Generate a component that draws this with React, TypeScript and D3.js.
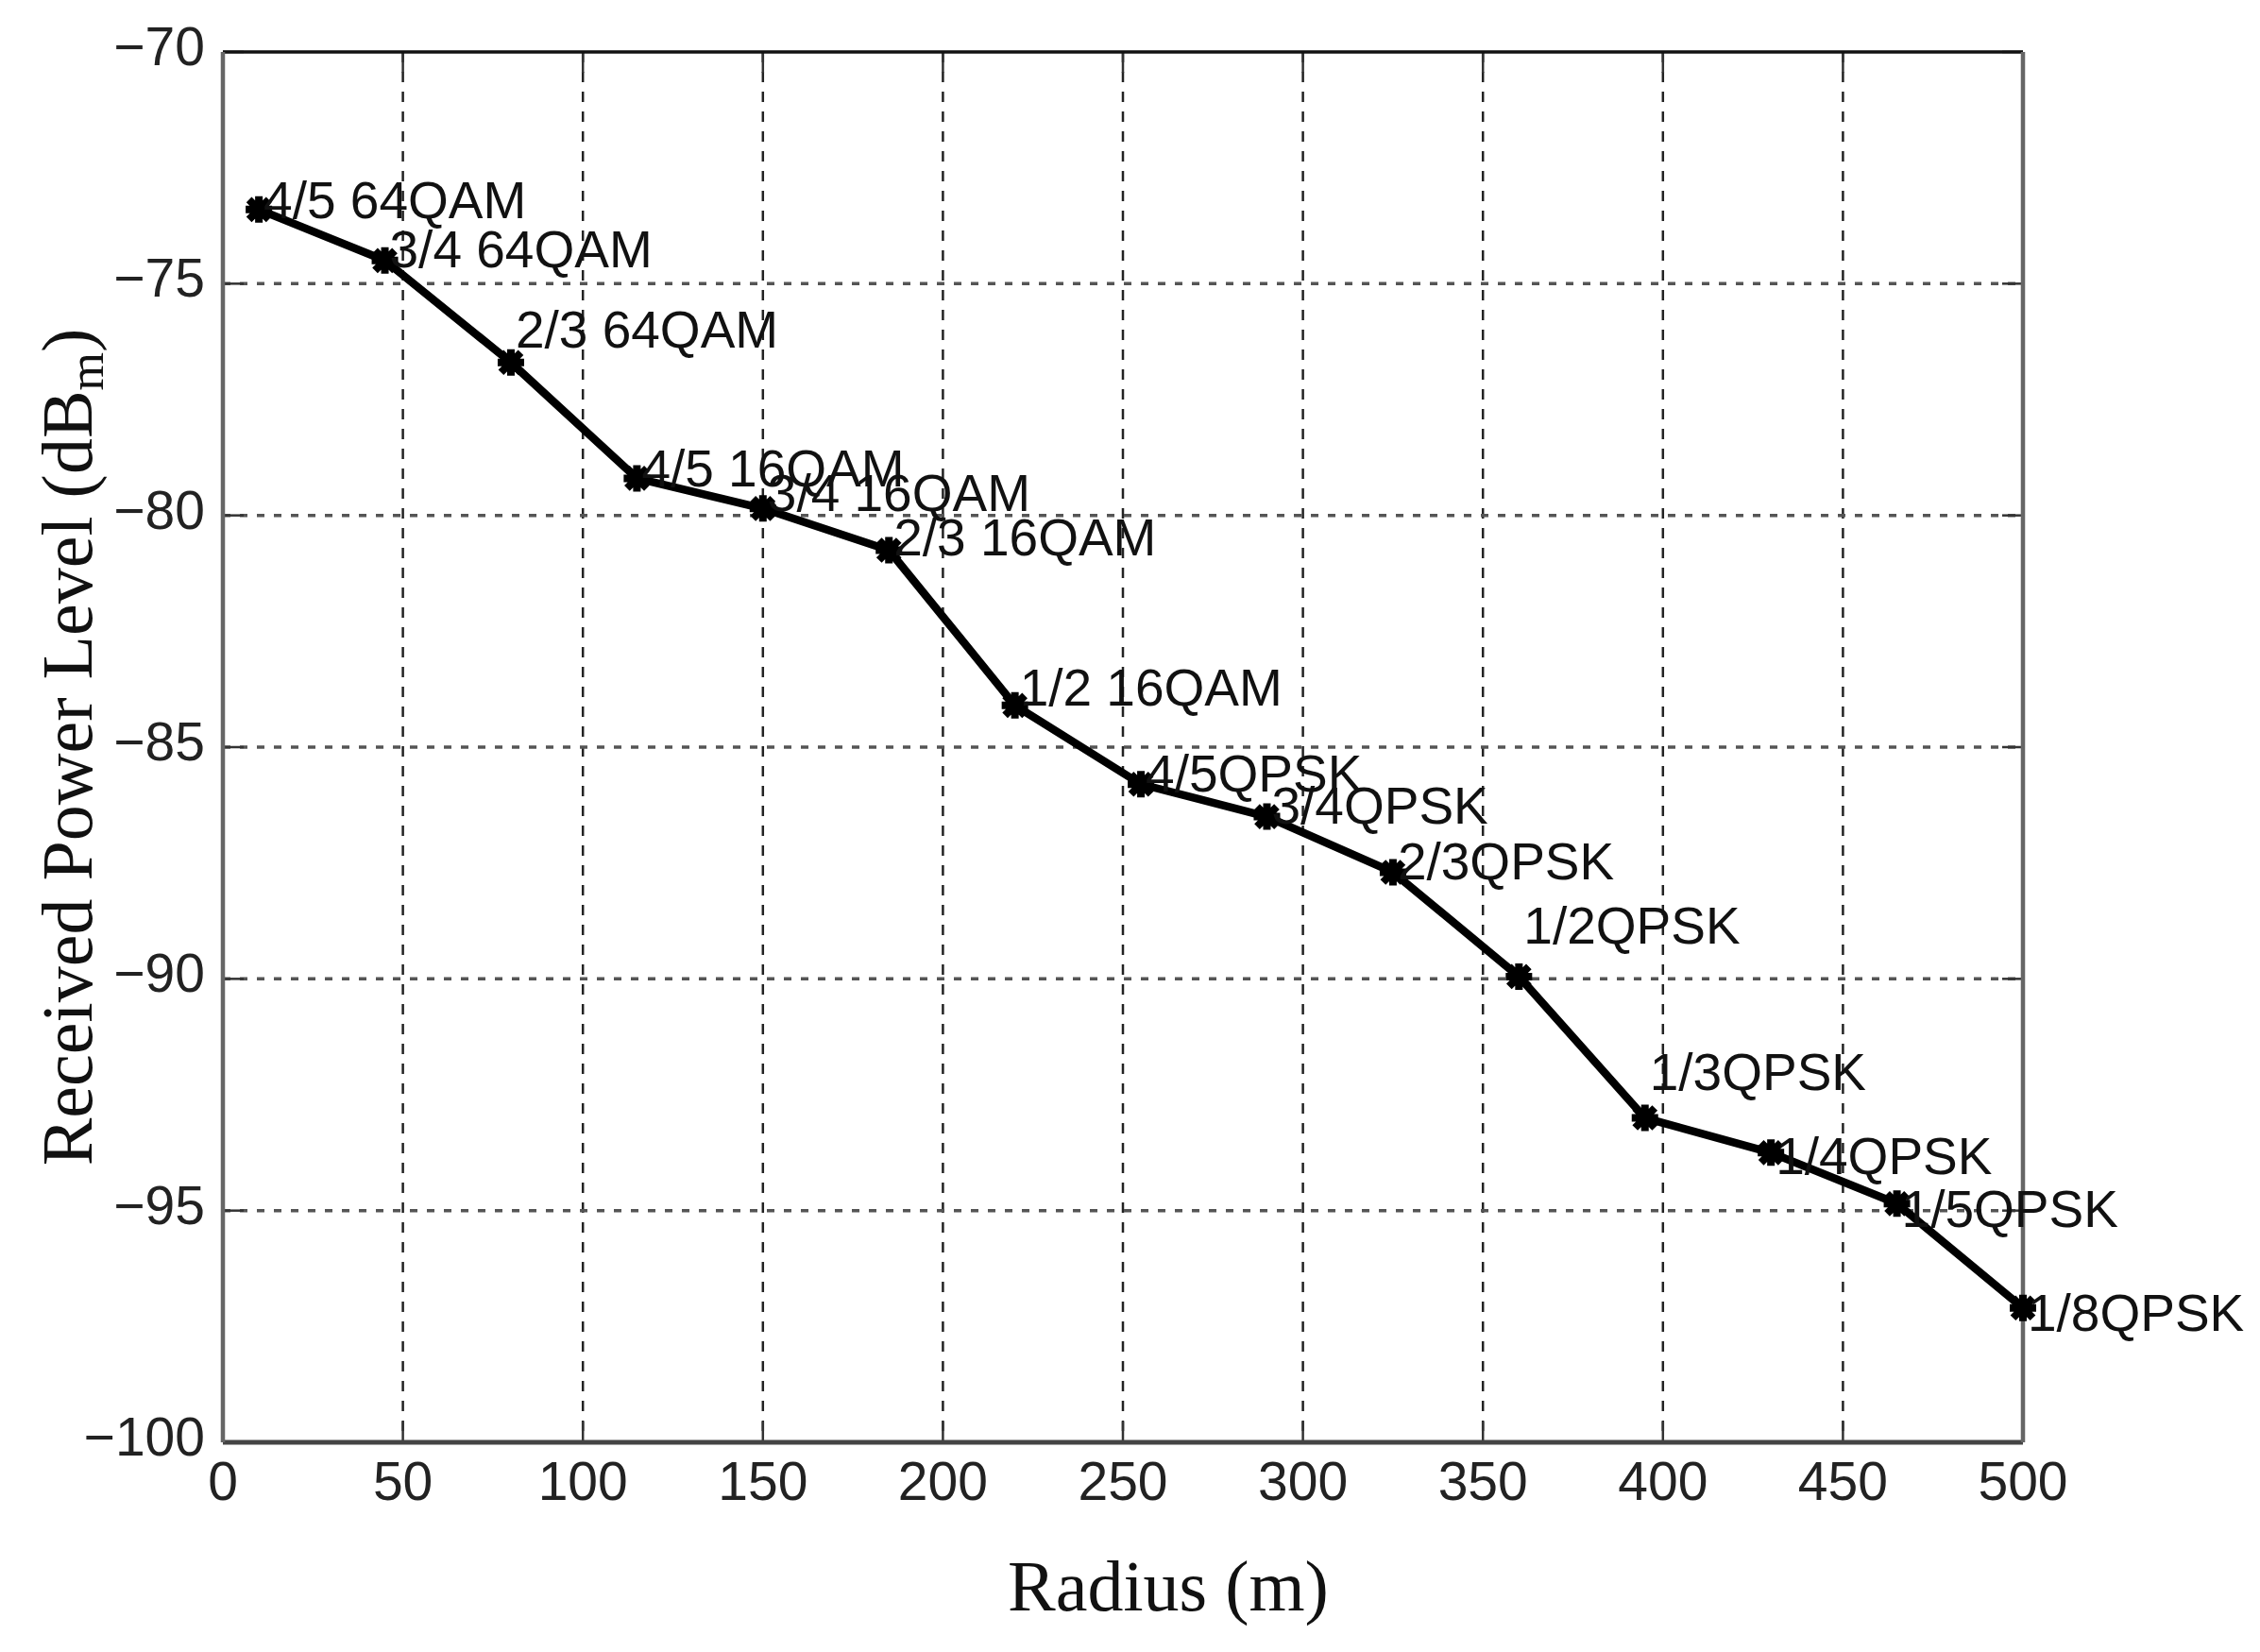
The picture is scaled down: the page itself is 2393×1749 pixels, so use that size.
import React, { useEffect, useRef } from 'react'
import * as d3 from 'd3'

// Radius (m) of each modulation/coding switch point
const radius = [10, 45, 80, 115, 150, 185, 220, 255, 290, 325, 360, 395, 430, 465, 500]

// Received power level (dBm) at each point
const power = [-73.4, -74.5, -76.7, -79.2, -79.85, -80.75, -84.1, -85.8, -86.5, -87.7, -89.95, -93.0, -93.75, -94.85, -97.1]

// MCS names written next to the points
const labels = [
	'4/5 64QAM', '3/4 64QAM', '2/3 64QAM',
	'4/5 16QAM', '3/4 16QAM', '2/3 16QAM', '1/2 16QAM',
	'4/5QPSK', '3/4QPSK', '2/3QPSK', '1/2QPSK', '1/3QPSK', '1/4QPSK', '1/5QPSK', '1/8QPSK',
]

// power level (dBm) where each label text is anchored
const labelPower = [-73.18, -74.24, -75.98, -78.96, -79.49, -80.46, -83.7, -85.55, -86.24, -87.45, -88.84, -92.0, -93.8, -94.94, -97.18]

const xTicks = [0, 50, 100, 150, 200, 250, 300, 350, 400, 450, 500]
const yTicks = [-70, -75, -80, -85, -90, -95, -100]

export default function App() {
	const ref = useRef<SVGSVGElement>(null)

	const width = 2393
	const height = 1749
	const margin = { top: 55, right: 251, bottom: 222, left: 236 }

	useEffect(() => {
		drawChart()
	// eslint-disable-next-line react-hooks/exhaustive-deps
	}, [])

	const drawChart = () => {
		const svg = d3.select(ref.current)
		svg.selectAll('*').remove()

		const x = d3.scaleLinear().domain([0, 500]).range([margin.left, width - margin.right])
		const y = d3.scaleLinear().domain([-100, -70]).range([height - margin.bottom, margin.top])

		const sans = '"Liberation Sans", Arial, sans-serif'
		const serif = '"Liberation Serif", "Times New Roman", serif'

		svg.append('rect')
			.attr('width', width)
			.attr('height', height)
			.attr('fill', '#fff')

		// Grid lines
		svg.append('g')
			.selectAll('line')
			.data(xTicks.slice(1, -1))
			.enter()
			.append('line')
			.attr('x1', d => x(d))
			.attr('x2', d => x(d))
			.attr('y1', y(-70))
			.attr('y2', y(-100))
			.style('stroke', '#222')
			.style('stroke-width', 2.5)
			.style('stroke-dasharray', '11 10')

		svg.append('g')
			.selectAll('line')
			.data(yTicks.slice(1, -1))
			.enter()
			.append('line')
			.attr('x1', x(0))
			.attr('x2', x(500))
			.attr('y1', d => y(d))
			.attr('y2', d => y(d))
			.style('stroke', '#555')
			.style('stroke-width', 3.5)
			.style('stroke-dasharray', '8 10')

		// Inward ticks
		const ticks = svg.append('g').style('stroke', '#333').style('stroke-width', 2.5)
		xTicks.forEach(t => {
			ticks.append('line').attr('x1', x(t)).attr('x2', x(t)).attr('y1', y(-100)).attr('y2', y(-100) - 22)
			ticks.append('line').attr('x1', x(t)).attr('x2', x(t)).attr('y1', y(-70)).attr('y2', y(-70) + 22)
		})
		yTicks.forEach(t => {
			ticks.append('line').attr('x1', x(0)).attr('x2', x(0) + 22).attr('y1', y(t)).attr('y2', y(t))
			ticks.append('line').attr('x1', x(500)).attr('x2', x(500) - 22).attr('y1', y(t)).attr('y2', y(t))
		})

		// Axes box
		svg.append('line').attr('x1', x(0)).attr('x2', x(500)).attr('y1', y(-70)).attr('y2', y(-70))
			.style('stroke', '#111').style('stroke-width', 3.5)
		svg.append('line').attr('x1', x(0)).attr('x2', x(500)).attr('y1', y(-100)).attr('y2', y(-100))
			.style('stroke', '#444').style('stroke-width', 5)
		svg.append('line').attr('x1', x(0)).attr('x2', x(0)).attr('y1', y(-70)).attr('y2', y(-100))
			.style('stroke', '#666').style('stroke-width', 4.5)
		svg.append('line').attr('x1', x(500)).attr('x2', x(500)).attr('y1', y(-70)).attr('y2', y(-100))
			.style('stroke', '#666').style('stroke-width', 4.5)

		// Tick labels
		svg.append('g')
			.selectAll('text')
			.data(xTicks)
			.enter()
			.append('text')
			.attr('x', d => x(d))
			.attr('y', y(-100) + 61)
			.attr('text-anchor', 'middle')
			.text(d => String(d))
			.style('fill', '#222')
			.style('font-family', sans)
			.style('font-size', '57px')

		svg.append('g')
			.selectAll('text')
			.data(yTicks)
			.enter()
			.append('text')
			.attr('x', x(0) - 19)
			.attr('y', d => y(d) + 14)
			.attr('text-anchor', 'end')
			.text(d => '\u2212' + Math.abs(d))
			.style('fill', '#222')
			.style('font-family', sans)
			.style('font-size', '57px')

		// Axis titles
		svg.append('text')
			.attr('x', 1237)
			.attr('y', 1705)
			.attr('text-anchor', 'middle')
			.text('Radius (m)')
			.style('fill', '#111')
			.style('font-family', serif)
			.style('font-size', '76px')

		const yTitle = svg.append('text')
			.attr('transform', `translate(97, ${(y(-70) + y(-100)) / 2}) rotate(-90)`)
			.attr('text-anchor', 'middle')
			.style('fill', '#111')
			.style('font-family', serif)
			.style('font-size', '76px')
		yTitle.append('tspan').text('Received Power Level (dB')
		yTitle.append('tspan').attr('dy', 12).style('font-size', '52px').text('m')
		yTitle.append('tspan').attr('dy', -12).text(')')

		// Curve
		const pts = radius.map((r, i) => [r, power[i]] as [number, number])
		const line = d3.line<[number, number]>()
			.x(d => x(d[0]))
			.y(d => y(d[1]))

		svg.append('path')
			.datum(pts)
			.attr('d', line)
			.style('fill', 'none')
			.style('stroke', '#000')
			.style('stroke-width', 8.5)
			.style('stroke-linejoin', 'round')

		// Asterisk markers
		const s = 14
		const star = `M${-s},0L${s},0M0,${-s}L0,${s}M${-s * 0.75},${-s * 0.75}L${s * 0.75},${s * 0.75}M${-s * 0.75},${s * 0.75}L${s * 0.75},${-s * 0.75}`
		svg.append('g')
			.selectAll('path')
			.data(pts)
			.enter()
			.append('path')
			.attr('d', star)
			.attr('transform', d => `translate(${x(d[0])}, ${y(d[1])})`)
			.style('fill', 'none')
			.style('stroke', '#000')
			.style('stroke-width', 8)

		// Point labels
		svg.append('g')
			.selectAll('text')
			.data(labels)
			.enter()
			.append('text')
			.attr('x', (_, i) => x(radius[i]) + 5)
			.attr('y', (_, i) => y(labelPower[i]) + 20)
			.text(d => d)
			.style('fill', '#111')
			.style('font-family', sans)
			.style('font-size', '55px')
	}

	return (
		<svg ref={ref} width={width} height={height}
			style={{ position: 'absolute', left: 0, top: 0, display: 'block' }} />
	)
}
